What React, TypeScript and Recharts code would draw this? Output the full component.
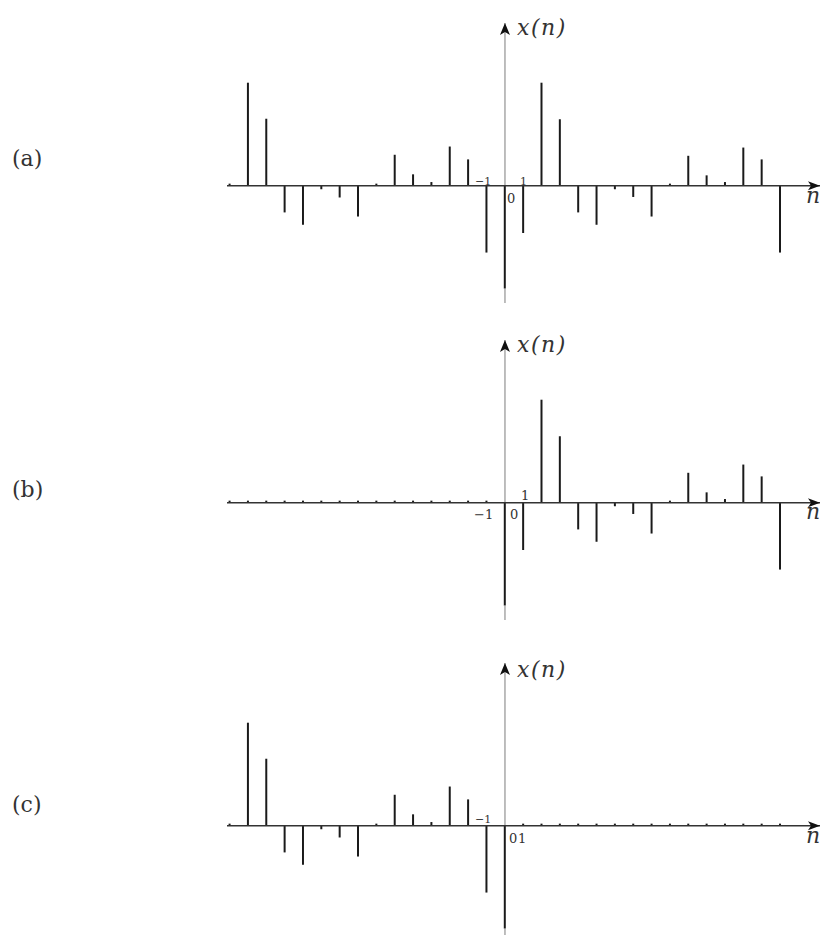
import { ComposedChart, Bar, XAxis, YAxis, ReferenceLine, ReferenceDot } from 'recharts';

// sample index n
const N = [-15, -14, -13, -12, -11, -10, -9, -8, -7, -6, -5, -4, -3, -2, -1, 0, 1, 2, 3, 4, 5, 6, 7, 8, 9, 10, 11, 12, 13, 14, 15];

// (a) full sequence
const seriesA = [0, 1.0, 0.65, -0.26, -0.38, -0.035, -0.115, -0.3, 0, 0.3, 0.11, 0.035, 0.38, 0.255, -0.65, -1.0, -0.46, 1.0, 0.645, -0.26, -0.38, -0.035, -0.11, -0.3, 0, 0.29, 0.1, 0.035, 0.37, 0.255, -0.65];
// (b) right-sided part
const seriesB = [0, 0, 0, 0, 0, 0, 0, 0, 0, 0, 0, 0, 0, 0, 0, -1.0, -0.46, 1.0, 0.645, -0.26, -0.38, -0.035, -0.11, -0.3, 0, 0.29, 0.1, 0.035, 0.37, 0.255, -0.65];
// (c) left-sided part
const seriesC = [0, 1.0, 0.65, -0.26, -0.38, -0.035, -0.115, -0.3, 0, 0.3, 0.11, 0.035, 0.38, 0.255, -0.65, -1.0, 0, 0, 0, 0, 0, 0, 0, 0, 0, 0, 0, 0, 0, 0, 0];

const X_DOMAIN: [number, number] = [-15.15, 17.17];
const Y_DOMAIN: [number, number] = [-1.14, 1.58];

const SERIF = '"DejaVu Serif", "Liberation Serif", serif';

const UpArrow = (props: any) => {
  const { cx, cy } = props;
  return <path d={`M${cx},${cy} L${cx + 5},${cy + 12} L${cx},${cy + 9} L${cx - 5},${cy + 12} Z`} fill="#111" />;
};

const RightArrow = (props: any) => {
  const { cx, cy } = props;
  return <path d={`M${cx},${cy} L${cx - 12},${cy - 4.5} L${cx - 9},${cy} L${cx - 12},${cy + 4.5} Z`} fill="#111" />;
};

function StemPanel({ values, top }: { values: number[]; top: number }) {
  const data = N.map((n, i) => ({ n, v: values[i] }));
  const v0 = values[N.indexOf(0)];
  return (
    <div style={{ position: 'absolute', left: 0, top }}>
      <ComposedChart width={824} height={300} data={data} margin={{ top: 10, right: 4, bottom: 10, left: 227 }}>
        <XAxis type="number" dataKey="n" domain={X_DOMAIN} hide allowDataOverflow />
        <YAxis type="number" domain={Y_DOMAIN} hide allowDataOverflow />
        {/* vertical axis, split so the n=0 stem stays dark */}
        <ReferenceLine segment={[{ x: 0, y: 0 }, { x: 0, y: Y_DOMAIN[1] }]} stroke="#9a9a9a" strokeWidth={1.3} ifOverflow="visible" />
        <ReferenceLine segment={[{ x: 0, y: Math.min(v0, 0) }, { x: 0, y: Y_DOMAIN[0] }]} stroke="#9a9a9a" strokeWidth={1.3} ifOverflow="visible" />
        <ReferenceLine y={0} stroke="#333" strokeWidth={1.5} ifOverflow="visible" />
        <Bar dataKey="v" barSize={2} fill="#1a1a1a" minPointSize={2} isAnimationActive={false} />
        <ReferenceDot x={0} y={Y_DOMAIN[1]} ifOverflow="visible" shape={UpArrow} />
        <ReferenceDot x={X_DOMAIN[1]} y={0} ifOverflow="visible" shape={RightArrow} />
      </ComposedChart>
    </div>
  );
}

type Lbl = { t: string; x: number; y: number; size: number; italic?: boolean; ls?: number; color?: string };

const LABELS: Lbl[] = [
  { t: '(a)', x: 12, y: 166, size: 22 },
  { t: '(b)', x: 12, y: 497, size: 22 },
  { t: '(c)', x: 12, y: 812, size: 22 },
  { t: 'x(n)', x: 517, y: 35, size: 22, italic: true, ls: 1.5 },
  { t: 'x(n)', x: 517, y: 352, size: 22, italic: true, ls: 1.5 },
  { t: 'x(n)', x: 517, y: 677, size: 22, italic: true, ls: 1.5 },
  { t: 'n', x: 806, y: 203, size: 22, italic: true },
  { t: 'n', x: 806, y: 519, size: 22, italic: true },
  { t: 'n', x: 806, y: 843, size: 22, italic: true },
  { t: '\u22121', x: 475, y: 185, size: 11 },
  { t: '0', x: 507, y: 203, size: 13 },
  { t: '1', x: 520, y: 185, size: 11 },
  { t: '\u22121', x: 474, y: 519, size: 13 },
  { t: '0', x: 510, y: 519, size: 13 },
  { t: '1', x: 521, y: 500, size: 13 },
  { t: '\u22121', x: 475, y: 823, size: 11 },
  { t: '0', x: 509, y: 843, size: 13 },
  { t: '1', x: 518, y: 843, size: 13 },
];

export default function App() {
  return (
    <div style={{ position: 'absolute', left: 0, top: 0, width: 824, height: 935, overflow: 'hidden', background: '#fff' }}>
      <StemPanel values={seriesA} top={13.4} />
      <StemPanel values={seriesB} top={329.7} />
      <StemPanel values={seriesC} top={653.4} />
      <svg width={824} height={935} style={{ position: 'absolute', left: 0, top: 0, pointerEvents: 'none' }}>
        {LABELS.map((l, i) => (
          <text
            key={i}
            x={l.x}
            y={l.y}
            style={{
              fontFamily: SERIF,
              fontSize: l.size,
              fontStyle: l.italic ? 'italic' : 'normal',
              letterSpacing: l.ls ?? 0,
            }}
            fill={l.color ?? '#333'}
          >
            {l.t}
          </text>
        ))}
      </svg>
    </div>
  );
}
